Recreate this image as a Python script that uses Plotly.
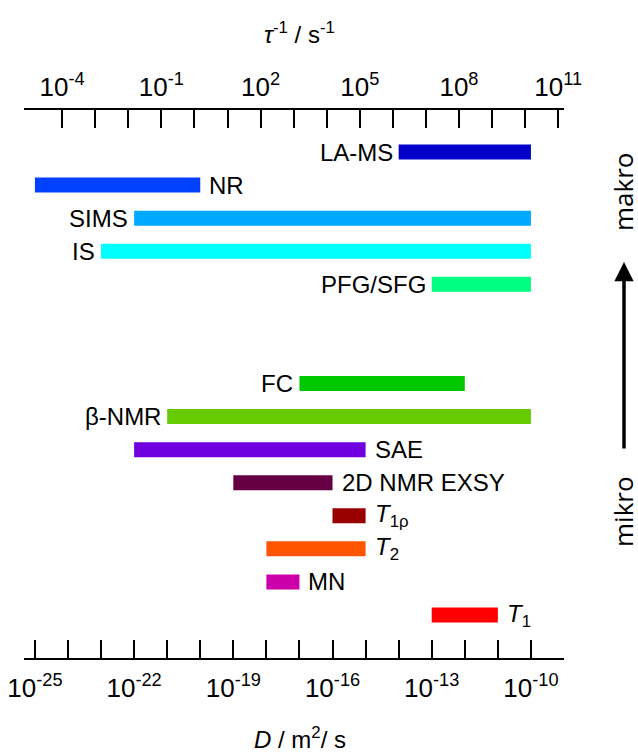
import numpy as np
import plotly.graph_objects as go

# Data: log10(D / m^2 s^-1) ranges for each technique
methods = ["LA-MS", "NR", "SIMS", "IS", "PFG/SFG",
           "FC", "β-NMR", "SAE", "2D NMR EXSY", "T1ρ", "T2", "MN", "T1"]
labels = ["LA-MS", "NR", "SIMS", "IS", "PFG/SFG",
          "FC", "β-NMR", "SAE", "2D NMR EXSY",
          "<i>T</i><sub>1ρ</sub>", "<i>T</i><sub>2</sub>", "MN", "<i>T</i><sub>1</sub>"]
d_min = [1e-14, 1e-25, 1e-22, 1e-23, 1e-13,
         1e-17, 1e-21, 1e-22, 1e-19, 1e-16, 1e-18, 1e-18, 1e-13]
d_max = [1e-10, 1e-20, 1e-10, 1e-10, 1e-10,
         1e-12, 1e-10, 1e-15, 1e-16, 1e-15, 1e-15, 1e-17, 1e-11]
rows = [0, 1, 2, 3, 4, 7, 8, 9, 10, 11, 12, 13, 14]
label_side = ["left", "right", "left", "left", "left",
              "left", "left", "right", "right", "right", "right", "right", "right"]
colors = ["#0000C8", "#0040FF", "#00A8FF", "#00FFFF", "#00FF80",
          "#00C800", "#66CC00", "#7000E0", "#660044", "#990000",
          "#FF5500", "#CC00AA", "#FF0000"]

# Axis ticks
d_tick_exp = list(range(-25, -8))
d_label_exp = [-25, -22, -19, -16, -13, -10]
tau_tick_exp = list(range(-4, 12))
tau_label_exp = [-4, -1, 2, 5, 8, 11]
# tau^-1 = 6 D / l^2 with l = 2e-10 m
tau_offset = np.log10(6 / (2e-10) ** 2)

d_range = [-25.33, -9.0]
tau_range = [d_range[0] + tau_offset, d_range[1] + tau_offset]

FONT = "Liberation Sans, Arial, sans-serif"
FS = 24
TFS = 26

fig = go.Figure()
for m, lo, hi, r, c in zip(methods, d_min, d_max, rows, colors):
    fig.add_trace(go.Scatter(x=[lo, hi], y=[r, r], mode="lines",
                             line=dict(color=c, width=15),
                             name=m, showlegend=False, hoverinfo="name"))
# invisible trace for top axis
fig.add_trace(go.Scatter(x=[10 ** tau_range[0], 10 ** tau_range[1]], y=[0, 0],
                         xaxis="x2", mode="markers", marker=dict(opacity=0),
                         showlegend=False, hoverinfo="skip"))

annotations = []
for lab, lo, hi, r, side in zip(labels, d_min, d_max, rows, label_side):
    if side == "left":
        annotations.append(dict(x=np.log10(lo), y=r, xref="x", yref="y", text=lab,
                                showarrow=False, xanchor="right", yanchor="middle",
                                xshift=-4, font=dict(size=FS, color="black", family=FONT)))
    else:
        annotations.append(dict(x=np.log10(hi), y=r, xref="x", yref="y", text=lab,
                                showarrow=False, xanchor="left", yanchor="middle",
                                xshift=7, font=dict(size=FS, color="black", family=FONT)))

# axis titles
annotations.append(dict(x=0.511, y=1 + (110 - 33) / 548, xref="paper", yref="paper",
                        text="<i>τ</i><sup>-1</sup> / s<sup>-1</sup>", showarrow=False,
                        xanchor="center", yanchor="middle",
                        font=dict(size=FS, family=FONT, color="black")))
annotations.append(dict(x=0.511, y=-(738 - 658) / 548, xref="paper", yref="paper",
                        text="<i>D</i> / m<sup>2</sup>/ s", showarrow=False,
                        xanchor="center", yanchor="middle",
                        font=dict(size=FS, family=FONT, color="black")))

fig.update_layout(
    width=638, height=756,
    margin=dict(l=24, r=74, t=110, b=98, autoexpand=False),
    paper_bgcolor="white", plot_bgcolor="white",
    xaxis=dict(type="log", range=d_range, showline=True, linecolor="black", linewidth=2,
               ticks="inside", ticklen=18, tickwidth=2, tickcolor="black",
               tickmode="array", tickvals=[10.0 ** e for e in d_tick_exp],
               ticktext=[("10<sup>%d</sup>" % e) if e in d_label_exp else "" for e in d_tick_exp],
               tickfont=dict(size=TFS, family=FONT, color="black"),
               ticklabelstandoff=6, automargin=False,
               showgrid=False, zeroline=False, mirror=False,
               fixedrange=True),
    xaxis2=dict(type="log", range=tau_range, overlaying="x", side="top", anchor="y",
                showline=True, linecolor="black", linewidth=2,
                ticks="inside", ticklen=18, tickwidth=2, tickcolor="black",
                tickmode="array", tickvals=[10.0 ** e for e in tau_tick_exp],
                ticktext=[("10<sup>%d</sup>" % e) if e in tau_label_exp else "" for e in tau_tick_exp],
                tickfont=dict(size=TFS, family=FONT, color="black"),
                ticklabelstandoff=2, automargin=False,
                showgrid=False, zeroline=False,
                fixedrange=True),
    yaxis=dict(range=[15.3, -1.27], visible=False, fixedrange=True, automargin=False),
    annotations=annotations,
)

# right side: makro / mikro with arrow
fig.add_annotation(x=(623 - 24) / 540, y=(658 - 192) / 548, xref="paper", yref="paper",
                   text="makro", textangle=-90, showarrow=False,
                   xanchor="center", yanchor="middle",
                   font=dict(size=26, family="Open Sans, sans-serif", color="black"))
fig.add_annotation(x=(623 - 24) / 540, y=(658 - 512) / 548, xref="paper", yref="paper",
                   text="mikro", textangle=-90, showarrow=False,
                   xanchor="center", yanchor="middle",
                   font=dict(size=26, family="Open Sans, sans-serif", color="black"))
fig.add_annotation(x=(624 - 24) / 540, y=(658 - 262) / 548, xref="paper", yref="paper",
                   ax=0, ay=450 - 262, axref="pixel", ayref="pixel",
                   text="", showarrow=True, arrowhead=2, arrowsize=1.1,
                   arrowwidth=3.5, arrowcolor="black")

fig.write_html("out.html")
